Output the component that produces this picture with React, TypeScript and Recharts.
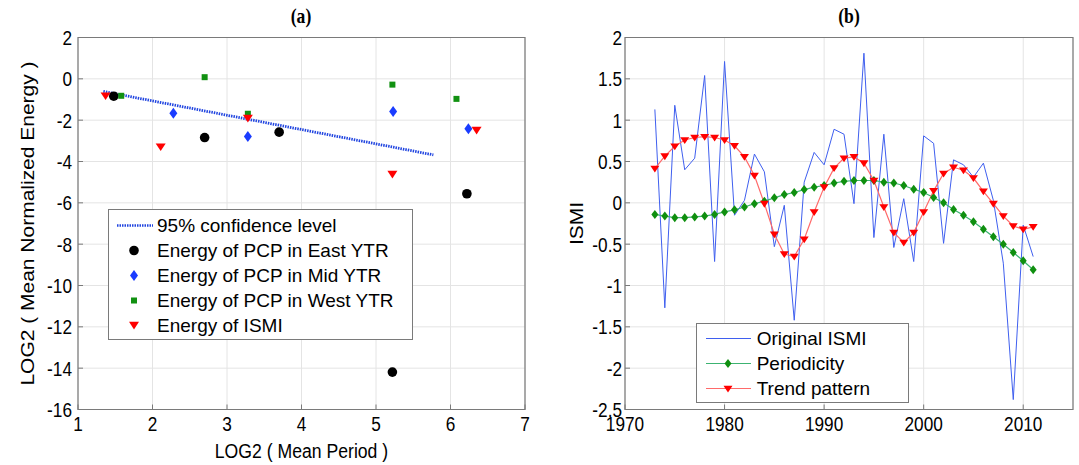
import { ScatterChart, Scatter, ComposedChart, Line, XAxis, YAxis, CartesianGrid, ReferenceArea, Legend } from 'recharts'

const FONT = '"Liberation Sans", Arial, sans-serif'
const axisColor = '#7a7a7a'
const gridColor = '#e4e4e4'
const SQUEEZE = 0.84 // the figure's text is a little narrow

// panel (a): energy vs period
const eastX = [1.48, 2.7, 3.7, 5.22, 6.22]
const eastY = [-0.84, -2.84, -2.58, -14.19, -5.56]
const midX = [2.28, 3.28, 5.23, 6.24]
const midY = [-1.66, -2.79, -1.58, -2.42]
const westX = [1.58, 2.7, 3.28, 5.22, 6.08]
const westY = [-0.82, 0.08, -1.69, -0.28, -0.97]
const ismiX = [1.37, 2.11, 3.28, 5.22, 6.35]
const ismiY = [-0.81, -3.28, -1.89, -4.6, -2.47]
const confX = [1.34, 5.77]
const confY = [-0.61, -3.68]
const xTicksA = [1, 2, 3, 4, 5, 6, 7]
const yTicksA = [-16, -14, -12, -10, -8, -6, -4, -2, 0, 2]

// panel (b): ISMI series
const years = [
  1973, 1974, 1975, 1976, 1977, 1978, 1979, 1980, 1981, 1982, 1983, 1984, 1985,
  1986, 1987, 1988, 1989, 1990, 1991, 1992, 1993, 1994, 1995, 1996, 1997, 1998,
  1999, 2000, 2001, 2002, 2003, 2004, 2005, 2006, 2007, 2008, 2009, 2010, 2011,
]
const original = [
  1.13, -1.27, 1.18, 0.4, 0.54, 1.54, -0.71, 1.71, -0.15, 0.03, 0.59, 0.375, -0.53,
  -0.03, -1.42, 0.25, 0.61, 0.46, 0.89, 0.83, -0.01, 1.81, -0.42, 0.83, -0.54, 0.05,
  -0.71, 0.81, 0.72, -0.49, 0.52, 0.46, 0.31, 0.48, 0.03, -0.73, -2.38, -0.27, -0.65,
]
const periodicity = [
  -0.14, -0.16, -0.18, -0.18, -0.17, -0.16, -0.14, -0.11, -0.085, -0.05, -0.01, 0.02, 0.06,
  0.1, 0.125, 0.16, 0.19, 0.21, 0.24, 0.26, 0.27, 0.27, 0.27, 0.25, 0.24, 0.21,
  0.165, 0.125, 0.065, 0.0, -0.08, -0.15, -0.23, -0.32, -0.41, -0.5, -0.6, -0.7, -0.81,
]
const trend = [
  0.415, 0.565, 0.685, 0.76, 0.79, 0.8, 0.79, 0.76, 0.69, 0.556, 0.33, -0.01, -0.38,
  -0.62, -0.65, -0.44, -0.11, 0.19, 0.42, 0.54, 0.556, 0.48, 0.27, -0.05, -0.36, -0.48,
  -0.36, -0.11, 0.145, 0.355, 0.43, 0.395, 0.3, 0.14, -0.01, -0.16, -0.28, -0.32, -0.29,
]
const yearTicks = [1970, 1980, 1990, 2000, 2010]
const ismiTicks = [-2.5, -2, -1.5, -1, -0.5, 0, 0.5, 1, 1.5, 2]

const pts = (xs: number[], ys: number[]) => xs.map((x, i) => ({ x, y: ys[i] }))
const ismiData = years.map((year, i) => ({
  year,
  original: original[i],
  periodicity: periodicity[i],
  trend: trend[i],
}))

// tick text, slightly condensed like the original figure
const Tick = (p: any) => (
  <g transform={`translate(${p.x},${p.y}) scale(${SQUEEZE},1)`}>
    <text
      x={0}
      y={0}
      dy={p.verticalAnchor === 'start' ? '0.72em' : '0.36em'}
      textAnchor={p.textAnchor}
      fontSize={20.5}
      fontFamily={FONT}
      fill="#000"
    >
      {p.payload.value}
    </text>
  </g>
)

const XLabel = ({ viewBox, text }: any) => (
  <g transform={`translate(${viewBox.x + viewBox.width / 2},${viewBox.y + viewBox.height - 7}) scale(${SQUEEZE},1)`}>
    <text textAnchor="middle" fontSize={21} fontFamily={FONT} fill="#000">
      {text}
    </text>
  </g>
)

const YLabel = ({ viewBox, text, at }: any) => (
  <g transform={`translate(${viewBox.x + at},${viewBox.y + viewBox.height / 2}) scale(${SQUEEZE},1) rotate(-90)`}>
    <text textAnchor="middle" dy="0.36em" fontSize={21} fontFamily={FONT} fill="#000">
      {text}
    </text>
  </g>
)

// marker shapes
const Circle = ({ cx, cy }: any) => <circle cx={cx} cy={cy} r={4.8} fill="#000" />
const Diamond = ({ cx, cy, w = 4, h = 5.5, color = '#1a3cff' }: any) => (
  <path d={`M${cx},${cy - h}L${cx + w},${cy}L${cx},${cy + h}L${cx - w},${cy}Z`} fill={color} />
)
const Square = ({ cx, cy }: any) => <rect x={cx - 3} y={cy - 3} width={6} height={6} fill="#119111" />
const TriDown = ({ cx, cy, w = 5, h = 4.5, color = '#ff0000' }: any) => (
  <path d={`M${cx - w},${cy - h * 0.7}L${cx + w},${cy - h * 0.7}L${cx},${cy + h}Z`} fill={color} />
)
const Nothing = () => <g />

const legendA = [
  { label: '95% confidence level', kind: 'dots' },
  { label: 'Energy of PCP in East YTR', kind: 'circle' },
  { label: 'Energy of PCP in Mid YTR', kind: 'diamond' },
  { label: 'Energy of PCP in West YTR', kind: 'square' },
  { label: 'Energy of ISMI', kind: 'tri' },
]

const LegendBoxA = () => (
  <div
    style={{
      width: 305,
      height: 131,
      boxSizing: 'border-box',
      border: `1px solid ${axisColor}`,
      background: '#fff',
      paddingTop: 3,
    }}
  >
    {legendA.map((e) => (
      <div key={e.label} style={{ height: 25, display: 'flex', alignItems: 'center' }}>
        <svg width={48} height={25} style={{ flex: 'none' }}>
          {e.kind === 'dots' && (
            <line x1={8} y1={12.5} x2={44} y2={12.5} stroke="#2145e0" strokeWidth={2.5} strokeDasharray="1.5 1" />
          )}
          {e.kind === 'circle' && <Circle cx={25} cy={12.5} />}
          {e.kind === 'diamond' && <Diamond cx={25} cy={12.5} />}
          {e.kind === 'square' && <Square cx={25} cy={12.5} />}
          {e.kind === 'tri' && <TriDown cx={25} cy={12} />}
        </svg>
        <span style={{ fontSize: 19, fontFamily: FONT, lineHeight: '25px', whiteSpace: 'nowrap' }}>{e.label}</span>
      </div>
    ))}
  </div>
)

const legendB = [
  { label: 'Original ISMI', kind: 'plain', color: '#3f5fef' },
  { label: 'Periodicity', kind: 'diamond', color: '#3cb371' },
  { label: 'Trend pattern', kind: 'tri', color: '#ff6a6a' },
]

const LegendBoxB = () => (
  <div
    style={{
      width: 213,
      height: 80,
      boxSizing: 'border-box',
      border: `1px solid ${axisColor}`,
      background: '#fff',
      paddingTop: 2,
    }}
  >
    {legendB.map((e) => (
      <div key={e.label} style={{ height: 25, display: 'flex', alignItems: 'center' }}>
        <svg width={60} height={25} style={{ flex: 'none' }}>
          <line x1={9} y1={12.5} x2={54} y2={12.5} stroke={e.color} strokeWidth={1.2} />
          {e.kind === 'diamond' && <Diamond cx={31} cy={12.5} w={3.5} h={4.5} color="#0f8f0f" />}
          {e.kind === 'tri' && <TriDown cx={31} cy={12.5} w={4.5} h={4} color="#ff0000" />}
        </svg>
        <span style={{ fontSize: 19, fontFamily: FONT, lineHeight: '25px', whiteSpace: 'nowrap' }}>{e.label}</span>
      </div>
    ))}
  </div>
)

const PeriodDot = (p: any) => <Diamond key={`pd-${p.index}`} cx={p.cx} cy={p.cy} w={3.5} h={4.5} color="#0f8f0f" />
const TrendDot = (p: any) => <TriDown key={`td-${p.index}`} cx={p.cx} cy={p.cy} w={4.5} h={4} color="#ff0000" />

const titleStyle: any = {
  position: 'absolute',
  top: 4,
  width: 100,
  textAlign: 'center',
  fontFamily: '"Liberation Serif", "Times New Roman", serif',
  fontWeight: 'bold',
  fontSize: 22,
  lineHeight: '24px',
  transform: 'scaleX(0.8)',
}

export default function App() {
  return (
    <div style={{ position: 'absolute', left: 0, top: 0, width: 1079, height: 465, background: '#fff' }}>
      <div style={{ ...titleStyle, left: 251 }}>(a)</div>
      <div style={{ ...titleStyle, left: 799 }}>(b)</div>

      <div style={{ position: 'absolute', left: 0, top: 0 }}>
        <ScatterChart width={540} height={465} margin={{ top: 37.5, right: 15, bottom: 0, left: 0 }}>
          <CartesianGrid stroke={gridColor} />
          <XAxis
            type="number"
            dataKey="x"
            domain={[1, 7]}
            ticks={xTicksA}
            height={55.5}
            axisLine={false}
            tickLine={{ stroke: axisColor }}
            tickSize={-5}
            tickMargin={12}
            tick={Tick}
            label={<XLabel text="LOG2 ( Mean Period )" />}
          />
          <XAxis
            xAxisId="top"
            orientation="top"
            type="number"
            dataKey="x"
            domain={[1, 7]}
            ticks={xTicksA}
            height={0}
            axisLine={false}
            tickLine={{ stroke: axisColor }}
            tickSize={-5}
            tick={false}
          />
          <YAxis
            type="number"
            dataKey="y"
            domain={[-16, 2]}
            ticks={yTicksA}
            width={78}
            axisLine={false}
            tickLine={{ stroke: axisColor }}
            tickSize={-5}
            tickMargin={11}
            tick={Tick}
            label={<YLabel text="LOG2 ( Mean Normalized Energy )" at={28} />}
          />
          <YAxis
            yAxisId="right"
            orientation="right"
            type="number"
            dataKey="y"
            domain={[-16, 2]}
            ticks={yTicksA}
            width={0}
            axisLine={false}
            tickLine={{ stroke: axisColor }}
            tickSize={-5}
            tick={false}
          />
          <ReferenceArea x1={1} x2={7} y1={-16} y2={2} fill="none" stroke={axisColor} strokeWidth={1.2} />
          <Scatter
            data={pts(confX, confY)}
            line={{ stroke: '#2145e0', strokeWidth: 2.8, strokeDasharray: '1.5 1' }}
            shape={Nothing}
            legendType="none"
            isAnimationActive={false}
          />
          <Scatter data={pts(eastX, eastY)} shape={Circle} isAnimationActive={false} />
          <Scatter data={pts(midX, midY)} shape={Diamond} isAnimationActive={false} />
          <Scatter data={pts(westX, westY)} shape={Square} isAnimationActive={false} />
          <Scatter data={pts(ismiX, ismiY)} shape={TriDown} isAnimationActive={false} />
          <Legend
            content={LegendBoxA}
            layout="vertical"
            align="center"
            verticalAlign="middle"
            wrapperStyle={{ left: 108, top: 209, width: 305, height: 131 }}
          />
        </ScatterChart>
      </div>

      <div style={{ position: 'absolute', left: 540, top: 0 }}>
        <ComposedChart width={539} height={465} data={ismiData} margin={{ top: 37.5, right: 6, bottom: 0, left: 0 }}>
          <CartesianGrid stroke={gridColor} />
          <XAxis
            type="number"
            dataKey="year"
            domain={[1970, 2015]}
            ticks={yearTicks}
            height={55.5}
            axisLine={false}
            tickLine={{ stroke: axisColor }}
            tickSize={-5}
            tickMargin={12}
            tick={Tick}
          />
          <XAxis
            xAxisId="top"
            orientation="top"
            type="number"
            dataKey="year"
            domain={[1970, 2015]}
            ticks={yearTicks}
            height={0}
            axisLine={false}
            tickLine={{ stroke: axisColor }}
            tickSize={-5}
            tick={false}
          />
          <YAxis
            type="number"
            domain={[-2.5, 2]}
            ticks={ismiTicks}
            width={85}
            axisLine={false}
            tickLine={{ stroke: axisColor }}
            tickSize={-5}
            tickMargin={8}
            tick={Tick}
            label={<YLabel text="ISMI" at={37} />}
          />
          <YAxis
            yAxisId="right"
            orientation="right"
            type="number"
            domain={[-2.5, 2]}
            ticks={ismiTicks}
            width={0}
            axisLine={false}
            tickLine={{ stroke: axisColor }}
            tickSize={-5}
            tick={false}
          />
          <ReferenceArea x1={1970} x2={2015} y1={-2.5} y2={2} fill="none" stroke={axisColor} strokeWidth={1.2} />
          <Line dataKey="original" stroke="#3f5fef" strokeWidth={1} dot={false} isAnimationActive={false} />
          <Line dataKey="periodicity" stroke="#3cb371" strokeWidth={1.2} dot={PeriodDot} isAnimationActive={false} />
          <Line dataKey="trend" stroke="#ff6a6a" strokeWidth={1.2} dot={TrendDot} isAnimationActive={false} />
          <Legend
            content={LegendBoxB}
            layout="vertical"
            align="center"
            verticalAlign="middle"
            wrapperStyle={{ left: 155.7, top: 323.3, width: 213, height: 80 }}
          />
        </ComposedChart>
      </div>
    </div>
  )
}
